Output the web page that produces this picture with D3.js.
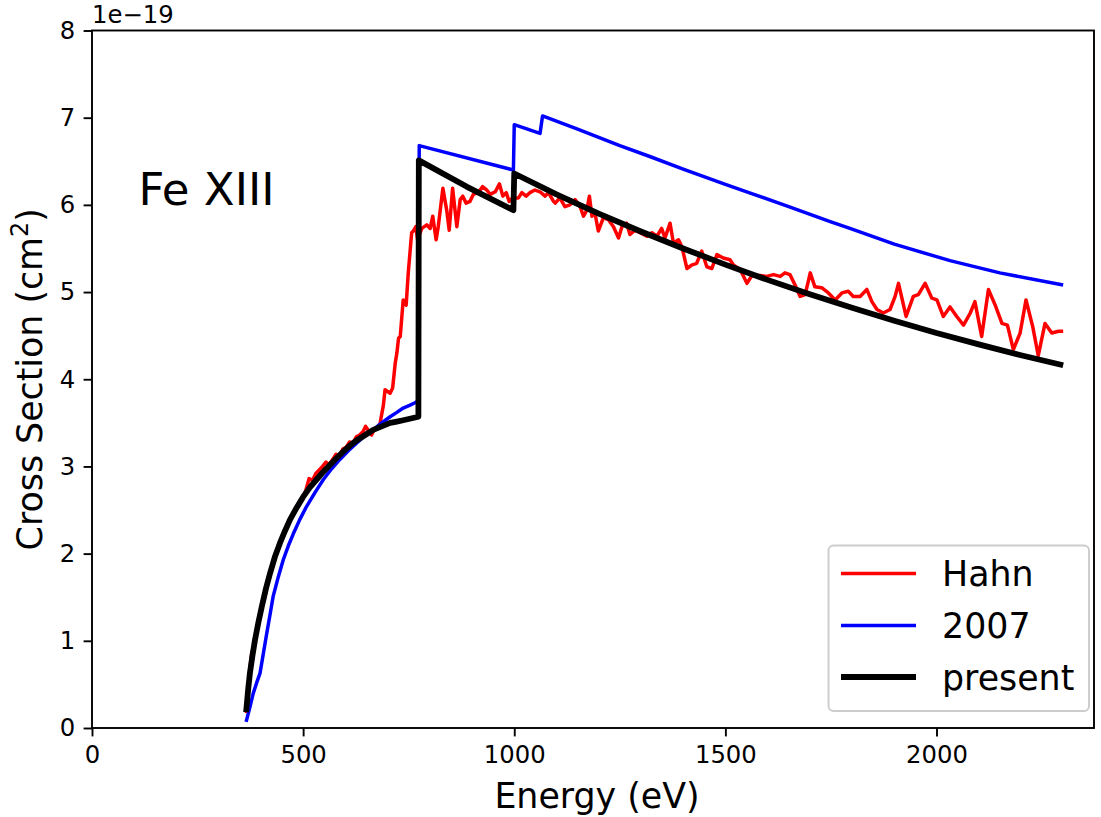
<!DOCTYPE html>
<html>
<head>
<meta charset="utf-8">
<script src="https://cdn.jsdelivr.net/npm/d3@7"></script>
<style>
  html, body { margin: 0; padding: 0; background: #fff; }
  svg { display: block; font-family: "DejaVu Sans", sans-serif; }
</style>
</head>
<body>
<svg id="chart" width="1101" height="817"></svg>
<script>
// Energy (eV) and cross section (units of 1e-19 cm^2) for each series.
const hahnEnergy = [366, 372, 378, 386, 394, 402, 410, 418, 426, 434, 442, 450, 458, 466, 474, 482, 490, 498, 506, 514,
  522, 530, 538, 546, 554, 562, 570, 578, 586, 594, 602, 610, 618, 626, 634, 642, 648, 656, 662, 668,
  674, 682, 690, 694, 706, 712, 718, 722, 726, 730, 737, 744, 749, 757, 761, 767, 771, 781, 793, 801,
  807, 815, 820, 831, 840, 846, 854, 864, 872, 878, 886, 895, 903, 915, 925, 935, 943, 955, 965, 973,
  981, 988, 997, 1010, 1018, 1028, 1037, 1049, 1061, 1073, 1081, 1093, 1097, 1108, 1120, 1132, 1144, 1156, 1164, 1172,
  1178, 1184, 1191, 1199, 1211, 1223, 1235, 1247, 1255, 1266, 1274, 1286, 1298, 1314, 1326, 1338, 1349, 1357, 1369, 1377,
  1389, 1397, 1409, 1420, 1432, 1444, 1456, 1468, 1480, 1495, 1511, 1519, 1535, 1551, 1563, 1582, 1598, 1614, 1630, 1641,
  1653, 1665, 1677, 1689, 1701, 1712, 1728, 1744, 1760, 1776, 1791, 1803, 1819, 1835, 1847, 1859, 1874, 1890, 1902, 1910,
  1928, 1945, 1957, 1973, 1989, 2001, 2016, 2032, 2048, 2064, 2080, 2091, 2107, 2123, 2139, 2155, 2168, 2182, 2198, 2212,
  2228, 2241, 2257, 2273, 2289, 2300];
const hahnValue = [0.17, 0.60, 0.85, 1.00, 1.22, 1.38, 1.52, 1.70, 1.86, 1.95, 2.10, 2.18, 2.28, 2.36, 2.42, 2.52, 2.56, 2.62, 2.72, 2.86,
  2.84, 2.92, 2.96, 3.00, 3.05, 3.02, 3.08, 3.14, 3.12, 3.20, 3.22, 3.28, 3.27, 3.34, 3.36, 3.40, 3.46, 3.40, 3.36, 3.42,
  3.44, 3.49, 3.70, 3.88, 3.84, 3.90, 4.18, 4.30, 4.47, 4.49, 4.91, 4.85, 5.22, 5.68, 5.70, 5.75, 5.60, 5.73, 5.77, 5.73,
  5.87, 5.60, 5.75, 6.19, 5.94, 5.71, 6.19, 5.75, 6.06, 6.10, 6.02, 6.04, 6.12, 6.14, 6.21, 6.17, 6.12, 6.15, 6.24, 6.10,
  6.14, 6.04, 6.08, 6.08, 6.14, 6.10, 6.14, 6.17, 6.15, 6.10, 6.14, 6.04, 6.02, 6.08, 5.98, 6.00, 6.06, 5.98, 5.87, 5.94,
  6.10, 5.87, 5.91, 5.70, 5.85, 5.83, 5.75, 5.62, 5.75, 5.79, 5.66, 5.71, 5.68, 5.64, 5.68, 5.64, 5.73, 5.62, 5.79, 5.56,
  5.60, 5.52, 5.27, 5.31, 5.33, 5.47, 5.29, 5.27, 5.43, 5.39, 5.37, 5.31, 5.26, 5.10, 5.19, 5.19, 5.18, 5.20, 5.18, 5.22,
  5.20, 5.08, 4.95, 4.97, 5.22, 5.06, 5.05, 4.99, 4.91, 4.99, 5.01, 4.95, 4.95, 5.03, 4.89, 4.80, 4.76, 4.80, 4.95, 5.10,
  4.72, 4.95, 4.97, 5.10, 4.93, 4.91, 4.72, 4.83, 4.72, 4.62, 4.76, 4.89, 4.49, 5.03, 4.85, 4.64, 4.62, 4.34, 4.53, 4.91,
  4.60, 4.27, 4.64, 4.53, 4.55, 4.55];

const y2007Energy = [365, 374, 382, 390, 398, 406, 414, 422, 429, 441, 453, 465, 477, 492, 508, 528, 548, 567, 587, 607,
  627, 646, 666, 686, 706, 722, 737, 752, 765, 772,
  775, 998, 1000, 1061, 1067, 1150, 1250, 1321, 1400, 1500, 1559, 1650, 1750, 1795, 1900, 2032, 2150, 2300];
const y2007Value = [0.07, 0.24, 0.40, 0.52, 0.63, 0.86, 1.09, 1.31, 1.51, 1.73, 1.93, 2.09, 2.23, 2.39, 2.54, 2.70, 2.85, 2.97, 3.08, 3.18,
  3.27, 3.35, 3.42, 3.50, 3.57, 3.62, 3.67, 3.70, 3.73, 3.75,
  6.68, 6.40, 6.92, 6.82, 7.02, 6.87, 6.68, 6.555, 6.41, 6.235, 6.135, 5.98, 5.805, 5.73, 5.55, 5.36, 5.22, 5.08];

const presentEnergy = [365, 370, 374, 380, 386, 394, 402, 412, 422, 433, 445, 457, 469, 485, 500, 516, 532, 548, 564, 580,
  595, 611, 627, 647, 666, 686, 706, 722, 737, 755, 773,
  774, 887, 998, 1000, 1100, 1200, 1300, 1400, 1500, 1600, 1700, 1800, 1900, 2000, 2100, 2200, 2300];
const presentValue = [0.18, 0.45, 0.63, 0.83, 1.01, 1.21, 1.39, 1.60, 1.78, 1.96, 2.12, 2.26, 2.39, 2.53, 2.65, 2.76, 2.85, 2.94, 3.02, 3.10,
  3.17, 3.24, 3.30, 3.36, 3.42, 3.46, 3.50, 3.515, 3.53, 3.55, 3.57,
  6.51, 6.21, 5.94, 6.36, 6.12, 5.90, 5.695, 5.50, 5.315, 5.14, 4.975, 4.82, 4.672, 4.53, 4.40, 4.275, 4.16];

const xTicks = [0, 500, 1000, 1500, 2000];
const yTicks = [0, 1, 2, 3, 4, 5, 6, 7, 8];
const seriesNames = ["Hahn", "2007", "present"];

const zip = (xs, ys) => xs.map((v, i) => ({ x: v, y: ys[i] }));
const series = [
  { name: seriesNames[0], data: zip(hahnEnergy, hahnValue), color: "#ff0000", width: 3.5 },
  { name: seriesNames[1], data: zip(y2007Energy, y2007Value), color: "#0000ff", width: 3.5 },
  { name: seriesNames[2], data: zip(presentEnergy, presentValue), color: "#000000", width: 5.8 }
];

const svg = d3.select("#chart");
const plotLeft = 92, plotRight = 1094, plotTop = 30.5, plotBottom = 728;

const xScale = d3.scaleLinear().domain([0, 2373]).range([plotLeft, plotRight]);
const yScale = d3.scaleLinear().domain([0, 8]).range([plotBottom, plotTop]);

svg.append("defs").append("clipPath").attr("id", "plot-clip")
  .append("rect").attr("x", plotLeft).attr("y", plotTop)
  .attr("width", plotRight - plotLeft).attr("height", plotBottom - plotTop);

// Data lines
const line = d3.line().x(d => xScale(d.x)).y(d => yScale(d.y));
const plot = svg.append("g").attr("clip-path", "url(#plot-clip)");
series.forEach(s => {
  plot.append("path")
    .datum(s.data)
    .attr("d", line)
    .attr("fill", "none")
    .attr("stroke", s.color)
    .attr("stroke-width", s.width)
    .attr("stroke-linejoin", "round")
    .attr("stroke-linecap", "butt");
});

// Axes
const tickFont = 24.3;
const labelFont = 34.8;
const xAxis = svg.append("g").attr("transform", `translate(0,${plotBottom})`)
  .call(d3.axisBottom(xScale).tickValues(xTicks).tickSize(8.4).tickPadding(9).tickFormat(d3.format("d")));
const yAxis = svg.append("g").attr("transform", `translate(${plotLeft},0)`)
  .call(d3.axisLeft(yScale).tickValues(yTicks).tickSize(8.4).tickPadding(8.4).tickFormat(d3.format("d")));
[xAxis, yAxis].forEach(g => {
  g.select(".domain").remove();
  g.selectAll(".tick line").attr("stroke", "#000").attr("stroke-width", 1.9);
  g.selectAll(".tick text").attr("fill", "#000").attr("font-size", tickFont)
    .attr("font-family", "DejaVu Sans, sans-serif");
});

// Frame
svg.append("rect")
  .attr("x", plotLeft).attr("y", plotTop)
  .attr("width", plotRight - plotLeft).attr("height", plotBottom - plotTop)
  .attr("fill", "none").attr("stroke", "#000").attr("stroke-width", 1.9);

// Offset text for the y scale
svg.append("text").attr("x", plotLeft).attr("y", 22.5)
  .attr("font-size", tickFont).text("1e\u221219");

// Axis labels
svg.append("text")
  .attr("x", (plotLeft + plotRight) / 2 + 4).attr("y", 807.5)
  .attr("text-anchor", "middle").attr("font-size", labelFont)
  .text("Energy (eV)");

const yl = svg.append("text")
  .attr("transform", `translate(42,${(plotTop + plotBottom) / 2}) rotate(-90)`)
  .attr("text-anchor", "middle").attr("font-size", labelFont);
yl.append("tspan").text("Cross Section (cm");
yl.append("tspan").attr("font-size", 24).attr("dy", -14).text("2");
yl.append("tspan").attr("dy", 14).text(")");

// Ion label
svg.append("text").attr("x", xScale(110)).attr("y", yScale(6.0))
  .attr("font-size", 45).text("Fe XIII");

// Legend
const legend = svg.append("g");
legend.append("rect")
  .attr("x", 828.5).attr("y", 545.5).attr("width", 260.5).attr("height", 165.5)
  .attr("rx", 5).attr("ry", 5)
  .attr("fill", "#fff").attr("fill-opacity", 0.8)
  .attr("stroke", "#cccccc").attr("stroke-width", 1.9);
const rowY = [573.5, 625.5, 677];
series.forEach((s, i) => {
  legend.append("line")
    .attr("x1", 841).attr("x2", 916).attr("y1", rowY[i]).attr("y2", rowY[i])
    .attr("stroke", s.color).attr("stroke-width", s.width);
  legend.append("text")
    .attr("x", 942).attr("y", rowY[i] + 12.5)
    .attr("font-size", labelFont).text(s.name);
});
</script>
</body>
</html>
